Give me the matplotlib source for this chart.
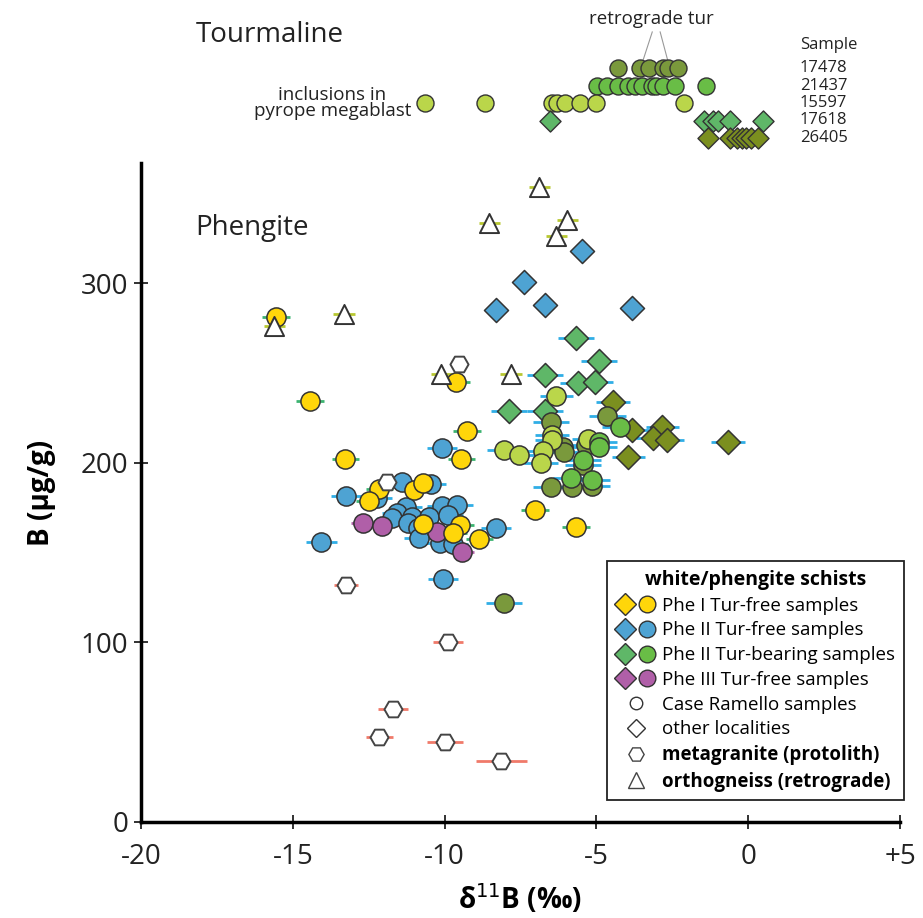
import matplotlib
matplotlib.use("Agg")
import matplotlib.pyplot as plt
from matplotlib.lines import Line2D
from matplotlib.legend_handler import HandlerTuple

plt.rcParams['font.family'] = ['Open Sans', 'DejaVu Sans']

# ---- tourmaline (top strip), d11B per sample ----
tur_samples = ['17478', '21437', '15597', '17618', '26405']
tur_17478 = [-4.28, -3.56, -3.26, -2.80, -2.63, -2.31]
tur_21437 = [-4.97, -4.64, -4.28, -3.95, -3.72, -3.49, -3.16, -3.03, -2.80, -2.40, -1.38]
tur_15597 = [-10.64, -8.66, -6.46, -6.29, -6.03, -5.53, -5.00, -2.11]
tur_17618 = [-6.52, -1.45, -1.15, -0.99, -0.59, 0.49]
tur_26405 = [-1.32, -0.59, -0.36, -0.20, -0.07, 0.10, 0.33]

# ---- phengite: (d11B, B) ----
pheI_x = [-15.55, -14.43, -9.62, -9.26, -13.27, -9.45, -12.15, -12.48, -11.0, -10.7, -10.7, -9.49, -9.72, -8.86, -7.02, -5.67]
pheI_y = [281, 234.5, 245, 218, 202, 202, 185.5, 178.5, 185, 189, 166, 165.5, 161, 157.7, 173.5, 164.5]

pheII_free_x = [-10.08, -13.24, -14.06, -11.4, -10.44, -12.22, -11.26, -10.08, -9.58, -11.56, -11.73, -11.07,
                -10.51, -9.88, -11.2, -10.87, -10.84, -10.14, -9.72, -8.3, -10.05]
pheII_free_y = [208.4, 181.6, 156, 189.4, 188.3, 180.5, 175.5, 176, 176.6, 172, 169.4, 170,
                170, 171, 166.6, 163.8, 158.2, 155.4, 154.9, 163.8, 135.4]
pheII_free_dx = [-5.47, -7.38, -8.3, -6.69, -3.82]
pheII_free_dy = [318, 300.8, 285.2, 288, 286.4]

pheII_tur_dx = [-5.67, -4.91, -6.69, -5.6, -5.04, -7.87, -6.69]
pheII_tur_dy = [269.6, 256.8, 249, 244.6, 245, 229, 229]
pheII_tur_ox = [-4.45, -3.82, -2.83, -3.13, -2.67, -0.66, -3.95]
pheII_tur_oy = [234, 218.4, 220, 214, 212.8, 211.7, 203.3]
pheII_light_x = [-6.32, -6.46, -6.46, -8.04, -7.54, -6.75, -6.82, -5.27]
pheII_light_y = [237.3, 215.6, 212.8, 207.2, 204.5, 206.7, 200, 213.4]
pheII_olive_x = [-6.49, -6.09, -6.06, -5.34, -5.44, -6.49, -5.8, -5.14, -4.64, -8.04]
pheII_olive_y = [222.8, 209, 206, 210, 199, 186.6, 186.6, 187.2, 226.2, 122]
pheII_green_x = [-4.91, -4.91, -5.44, -5.83, -5.14, -4.22]
pheII_green_y = [211.7, 209, 201.7, 191.6, 190.5, 220]

pheIII_x = [-12.68, -12.06, -10.24, -9.42]
pheIII_y = [166.6, 164.9, 161.6, 150.4]

metagranite_x = [-9.52, -11.89, -13.24, -9.88, -11.69, -12.15, -9.98, -8.14]
metagranite_y = [255.2, 189.4, 132, 100.3, 63, 47.4, 44.6, 34]
metagranite_err = [0.2, 0.3, 0.4, 0.5, 0.5, 0.45, 0.6, 0.84]

ortho_x = [-15.61, -13.31, -8.53, -6.88, -5.96, -6.32, -10.11, -7.81]
ortho_y = [276.3, 283, 333.7, 353.8, 335.4, 326.5, 249.6, 249.6]

xticks = [-20, -15, -10, -5, 0, 5]
xtick_labels = ['-20', '-15', '-10', '-5', '0', '+5']
yticks = [0, 100, 200, 300]

c_yellow = '#ffd60a'
c_blue = '#4ea3d3'
c_green_d = '#5fb768'
c_olive_d = '#7b8f1f'
c_light = '#bad64a'
c_green = '#69bd46'
c_olive = '#7a993c'
c_purple = '#b05fa8'
edge = '#333333'

fig = plt.figure(figsize=(9.23, 9.18), dpi=100)
W, H = 923, 918
ax = fig.add_axes([141 / W, 1 - 822 / H, 759 / W, 659 / H])
top = fig.add_axes([141 / W, 1 - 160 / H, 759 / W, 160 / H])

# ---- top strip ----
top.set_xlim(-20, 5)
top.set_ylim(92 / 17.5, -68 / 17.5)
top.axis('off')
rows = [(tur_17478, c_olive, 'o'), (tur_21437, c_green, 'o'), (tur_15597, c_light, 'o'),
        (tur_17618, c_green_d, 'D'), (tur_26405, c_olive_d, 'D')]
for i, (vals, col, m) in enumerate(rows):
    s = 150 if m == 'o' else 115
    top.scatter(vals, [i] * len(vals), s=s, c=col, marker=m, edgecolors=edge, linewidths=1, zorder=3)
    top.text(1.7, i, tur_samples[i], fontsize=12, va='center', ha='left', color='#222222')
top.text(1.7, -1.3, 'Sample', fontsize=12, va='center', ha='left', color='#222222')
top.text(-18.2, -1.9, 'Tourmaline', fontsize=20, va='center', ha='left', color='#222222')
top.text(-11.1, 2, 'inclusions in\npyrope megablast', fontsize=13.5, va='center', ha='right',
         ma='center', linespacing=0.9, color='#222222')
top.text(-3.2, -2.8, 'retrograde tur', fontsize=13.5, va='center', ha='center', color='#222222')
top.plot([-3.16, -3.49], [-2.06, -0.3], color='#999999', lw=0.8, zorder=1)
top.plot([-2.9, -2.63], [-2.06, -0.3], color='#999999', lw=0.8, zorder=1)

# ---- phengite error bars ----
eb = dict(fmt='none', elinewidth=2, zorder=1)
ax.errorbar(pheI_x, pheI_y, xerr=0.45, ecolor='#3cb371', **eb)
ax.errorbar(pheII_free_x, pheII_free_y, xerr=0.5, ecolor='#30aee6', **eb)
ax.errorbar(pheII_free_dx, pheII_free_dy, xerr=0.3, ecolor='#30aee6', **eb)
ax.errorbar(pheII_tur_dx, pheII_tur_dy, xerr=0.6, ecolor='#30aee6', **eb)
ax.errorbar(pheII_tur_ox, pheII_tur_oy, xerr=0.55, ecolor='#30aee6', **eb)
ax.errorbar(pheII_light_x, pheII_light_y, xerr=0.55, ecolor='#30aee6', **eb)
ax.errorbar(pheII_olive_x, pheII_olive_y, xerr=0.6, ecolor='#30aee6', **eb)
ax.errorbar(pheII_green_x, pheII_green_y, xerr=0.6, ecolor='#30aee6', **eb)
ax.errorbar(pheIII_x, pheIII_y, xerr=0.4, ecolor=c_purple, **eb)
ax.errorbar(metagranite_x, metagranite_y, xerr=metagranite_err, ecolor='#f07a6a', **eb)
ax.errorbar(ortho_x, ortho_y, xerr=0.35, ecolor='#b8c832', **eb)

# ---- phengite markers ----
sc = dict(edgecolors=edge, linewidths=1.1, zorder=3)
ax.scatter(pheII_free_dx, pheII_free_dy, s=150, marker='D', c=c_blue, **sc)
ax.scatter(pheII_tur_dx, pheII_tur_dy, s=150, marker='D', c=c_green_d, **sc)
ax.scatter(pheII_tur_ox, pheII_tur_oy, s=150, marker='D', c=c_olive_d, **sc)
ax.scatter(pheII_olive_x, pheII_olive_y, s=190, marker='o', c=c_olive, **sc)
ax.scatter(pheII_light_x, pheII_light_y, s=190, marker='o', c=c_light, **sc)
ax.scatter(pheII_green_x, pheII_green_y, s=190, marker='o', c=c_green, **sc)
ax.scatter(pheII_free_x, pheII_free_y, s=190, marker='o', c=c_blue, **sc)
ax.scatter(pheIII_x, pheIII_y, s=190, marker='o', c=c_purple, **sc)
ax.scatter(pheI_x, pheI_y, s=190, marker='o', c=c_yellow, **sc)
ax.scatter(metagranite_x, metagranite_y, s=170, marker='H', c='white', edgecolors='#444444',
           linewidths=1.4, zorder=4)
ax.scatter(ortho_x, ortho_y, s=190, marker='^', c='white', edgecolors='#333333',
           linewidths=1.4, zorder=4)

ax.text(-18.2, 331, 'Phengite', fontsize=20, va='center', ha='left', color='#222222')

# ---- axes ----
ax.set_xlim(-20, 5)
ax.set_ylim(0, 367)
for side in ['top', 'right']:
    ax.spines[side].set_visible(False)
for side in ['left', 'bottom']:
    ax.spines[side].set_linewidth(2.5)
ax.set_xticks(xticks)
ax.set_xticklabels(xtick_labels)
ax.set_yticks(yticks)
ax.tick_params(direction='inout', length=10, width=1.3, labelsize=20, colors='#222222')
ax.tick_params(axis='x', pad=10)
ax.tick_params(axis='y', pad=4)
ax.set_xlabel('δ$^{11}$B (‰)', fontsize=20, fontweight='bold', labelpad=8)
ax.set_ylabel('B (µg/g)', fontsize=20, fontweight='bold', labelpad=18)

# ---- legend ----
def mk(m, fc, ms=12, ec=edge):
    return Line2D([], [], ls='none', marker=m, markersize=ms, markerfacecolor=fc,
                  markeredgecolor=ec, markeredgewidth=1)

handles = [
    (mk('D', c_yellow, 11), mk('o', c_yellow)),
    (mk('D', c_blue, 11), mk('o', c_blue)),
    (mk('D', c_green_d, 11), mk('o', c_green)),
    (mk('D', c_purple, 11), mk('o', c_purple)),
    mk('o', 'white', 9),
    mk('D', 'white', 9),
    mk('H', 'white', 11, '#444444'),
    mk('^', 'white', 11, '#444444'),
]
labels = ['Phe I Tur-free samples', 'Phe II Tur-free samples', 'Phe II Tur-bearing samples',
          'Phe III Tur-free samples', 'Case Ramello samples', 'other localities',
          'metagranite (protolith)', 'orthogneiss (retrograde)']
leg = ax.legend(handles, labels, handler_map={tuple: HandlerTuple(ndivide=None, pad=0.1)},
                loc='lower left', bbox_to_anchor=(0.614, 0.033), borderaxespad=0, fontsize=13.5,
                title='white/phengite schists', title_fontproperties={'weight': 'bold', 'size': 14},
                frameon=True, fancybox=False, edgecolor='#222222', framealpha=1,
                handlelength=2.2, handletextpad=0.3, labelspacing=0.36, borderpad=0.45)
leg.get_frame().set_linewidth(1.3)
for t in leg.get_texts()[6:]:
    t.set_fontweight('bold')

fig.savefig('out.png', dpi=100)
